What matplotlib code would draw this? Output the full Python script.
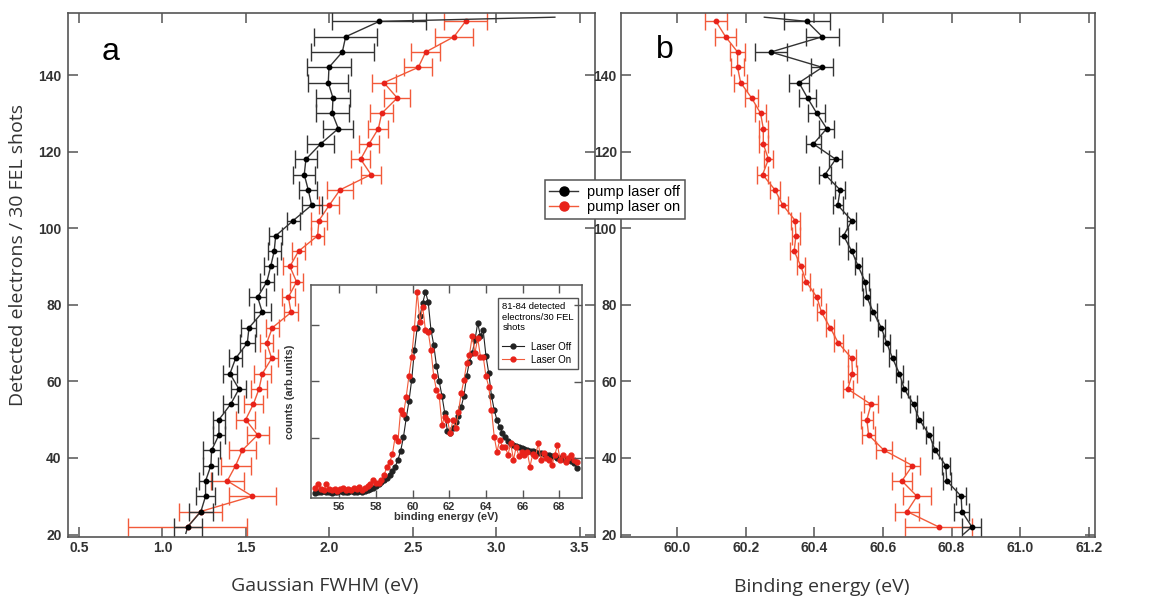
import matplotlib
matplotlib.use('Agg')
import matplotlib.pyplot as plt
from matplotlib.lines import Line2D

plt.rcParams['font.family'] = ['Liberation Sans', 'DejaVu Sans']

# detected electrons / 30 FEL shots (y of both panels)
electrons = [22, 26, 30, 34, 38, 42, 46, 50, 54, 58, 62, 66, 70, 74, 78, 82, 86,
             90, 94, 98, 102, 106, 110, 114, 118, 122, 126, 130, 134, 138, 142, 146, 150, 154]

# panel a: Gaussian FWHM (eV)
fwhm_off = [1.151, 1.230, 1.258, 1.258, 1.290, 1.294, 1.338, 1.338, 1.408, 1.458, 1.404, 1.438,
            1.508, 1.518, 1.598, 1.570, 1.625, 1.648, 1.669, 1.678, 1.783, 1.893, 1.873, 1.849,
            1.859, 1.947, 2.053, 2.017, 2.021, 1.993, 1.997, 2.077, 2.097, 2.298]
fwhm_off_err = [0.083, 0.07, 0.055, 0.04, 0.045, 0.05, 0.035, 0.035, 0.045, 0.045, 0.04, 0.04,
                0.045, 0.045, 0.05, 0.05, 0.04, 0.04, 0.04, 0.04, 0.04, 0.06, 0.054, 0.065,
                0.065, 0.08, 0.09, 0.10, 0.10, 0.12, 0.13, 0.19, 0.19, 0.28]
fwhm_on = [1.150, 1.228, 1.538, 1.388, 1.438, 1.478, 1.570, 1.498, 1.544, 1.578, 1.598, 1.654,
           1.624, 1.658, 1.770, 1.754, 1.803, 1.763, 1.815, 1.929, 1.937, 1.999, 2.063, 2.249,
           2.187, 2.237, 2.293, 2.313, 2.406, 2.326, 2.532, 2.576, 2.746, 2.815]
fwhm_on_err = [0.355, 0.13, 0.14, 0.10, 0.09, 0.08, 0.065, 0.055, 0.056, 0.05, 0.05, 0.04,
               0.04, 0.04, 0.04, 0.04, 0.04, 0.04, 0.04, 0.04, 0.05, 0.06, 0.08, 0.06,
               0.055, 0.06, 0.06, 0.07, 0.077, 0.072, 0.085, 0.088, 0.115, 0.13]
# line ends running past the first/last point (laser off)
fwhm_off_ends = [1.14, 3.35]
fwhm_off_ends_y = [20.3, 155.1]

# panel b: binding energy (eV)
be_off = [60.859, 60.830, 60.828, 60.786, 60.783, 60.752, 60.735, 60.706, 60.689, 60.662,
          60.648, 60.628, 60.611, 60.595, 60.572, 60.553, 60.548, 60.528, 60.509, 60.485,
          60.509, 60.468, 60.475, 60.431, 60.462, 60.397, 60.436, 60.407, 60.380, 60.355,
          60.423, 60.273, 60.423, 60.378]
be_off_err = [0.028, 0.022, 0.015, 0.012, 0.012, 0.01, 0.01, 0.01, 0.01, 0.01, 0.01, 0.01,
              0.01, 0.01, 0.01, 0.01, 0.01, 0.01, 0.012, 0.013, 0.013, 0.015, 0.015, 0.018,
              0.018, 0.022, 0.022, 0.025, 0.025, 0.03, 0.032, 0.047, 0.048, 0.067]
be_on = [60.762, 60.670, 60.699, 60.655, 60.686, 60.603, 60.558, 60.553, 60.565, 60.497,
         60.511, 60.509, 60.470, 60.446, 60.421, 60.407, 60.376, 60.361, 60.341, 60.346,
         60.344, 60.308, 60.285, 60.249, 60.266, 60.251, 60.251, 60.243, 60.217, 60.185,
         60.176, 60.176, 60.141, 60.113]
be_on_err = [0.097, 0.035, 0.04, 0.03, 0.022, 0.022, 0.02, 0.017, 0.02, 0.015, 0.012, 0.012,
             0.012, 0.012, 0.012, 0.012, 0.012, 0.012, 0.012, 0.012, 0.013, 0.014, 0.014, 0.015,
             0.014, 0.014, 0.014, 0.017, 0.018, 0.018, 0.018, 0.022, 0.03, 0.032]
be_off_ends = [60.835, 60.254]
be_off_ends_y = [20.1, 155.1]

# inset: spectrum for 81-84 detected electrons / 30 FEL shots
inset_energy = [54.70, 54.85, 55.00, 55.15, 55.30, 55.45, 55.60, 55.75, 55.90, 56.05,
                56.20, 56.35, 56.50, 56.65, 56.80, 56.95, 57.10, 57.25, 57.40, 57.55,
                57.70, 57.85, 58.00, 58.15, 58.30, 58.45, 58.60, 58.75, 58.90, 59.05,
                59.20, 59.35, 59.50, 59.65, 59.80, 59.95, 60.10, 60.25, 60.40, 60.55,
                60.70, 60.85, 61.00, 61.15, 61.30, 61.45, 61.60, 61.75, 61.90, 62.05,
                62.20, 62.35, 62.50, 62.65, 62.80, 62.95, 63.10, 63.25, 63.40, 63.55,
                63.70, 63.85, 64.00, 64.15, 64.30, 64.45, 64.60, 64.75, 64.90, 65.05,
                65.20, 65.35, 65.50, 65.65, 65.80, 65.95, 66.10, 66.25, 66.40, 66.55,
                66.70, 66.85, 67.00, 67.15, 67.30, 67.45, 67.60, 67.75, 67.90, 68.05,
                68.20, 68.35, 68.50, 68.65, 68.80, 68.95]
counts_off = [0.04, 0.06, 0.05, 0.07, 0.05, 0.06, 0.04, 0.06, 0.05, 0.07,
              0.05, 0.06, 0.05, 0.07, 0.06, 0.05, 0.07, 0.06, 0.07, 0.08,
              0.10, 0.13, 0.16, 0.20, 0.23, 0.27, 0.30, 0.36, 0.43, 0.50,
              0.62, 0.78, 1.02, 1.35, 1.65, 2.03, 2.55, 2.95, 3.15, 3.38,
              3.58, 3.40, 2.91, 2.65, 2.28, 2.00, 1.75, 1.45, 1.12, 1.10,
              1.18, 1.28, 1.40, 1.55, 1.75, 2.10, 2.35, 2.50, 2.73, 3.03,
              2.80, 2.90, 2.45, 2.15, 1.75, 1.50, 1.32, 1.20, 1.10, 1.02,
              0.95, 0.90, 0.88, 0.86, 0.84, 0.82, 0.81, 0.80, 0.78, 0.77,
              0.76, 0.74, 0.74, 0.72, 0.71, 0.70, 0.68, 0.68, 0.66, 0.65,
              0.63, 0.62, 0.62, 0.60, 0.57, 0.48]
counts_on = [0.12, 0.20, 0.10, 0.08, 0.19, 0.10, 0.09, 0.11, 0.07, 0.10,
             0.13, 0.08, 0.11, 0.09, 0.12, 0.10, 0.14, 0.09, 0.12, 0.15,
             0.19, 0.26, 0.22, 0.21, 0.26, 0.36, 0.50, 0.58, 0.72, 1.03,
             0.95, 1.50, 1.42, 1.73, 2.10, 2.44, 2.95, 3.58, 3.05, 3.32,
             2.90, 2.88, 2.55, 2.10, 1.85, 1.75, 1.24, 1.38, 1.32, 1.09,
             1.32, 1.18, 1.47, 1.79, 2.03, 2.32, 2.47, 2.80, 2.50, 2.76,
             2.44, 2.44, 2.09, 1.91, 1.50, 1.03, 0.76, 0.97, 0.85, 0.85,
             0.71, 0.91, 0.62, 0.85, 0.68, 0.76, 0.70, 0.76, 0.50, 0.72,
             0.68, 0.91, 0.62, 0.74, 0.66, 0.62, 0.53, 0.70, 0.88, 0.62,
             0.71, 0.59, 0.66, 0.71, 0.62, 0.59]

fwhm_ticks = [0.5, 1.0, 1.5, 2.0, 2.5, 3.0, 3.5]
be_ticks = [60.0, 60.2, 60.4, 60.6, 60.8, 61.0, 61.2]
y_ticks = [20, 40, 60, 80, 100, 120, 140]
inset_ticks = [56, 58, 60, 62, 64, 66, 68]

black = '#333333'
red_line = '#f25a3a'
red_dot = '#e8221a'
frame = '#555555'
text_col = '#333333'

fig = plt.figure(figsize=(11.62, 6.01), dpi=100)
ax_a = fig.add_axes([0.0585, 0.1065, 0.4535, 0.8719])
ax_b = fig.add_axes([0.5344, 0.1065, 0.4079, 0.8719])


def style(ax, ypad):
    for s in ax.spines.values():
        s.set_color(frame)
        s.set_linewidth(1.2)
    ax.tick_params(direction='in', top=True, right=True, length=7, width=1.1, color=frame,
                   labelsize=10, labelcolor=text_col)
    ax.tick_params(axis='y', pad=ypad)
    ax.tick_params(axis='x', pad=3)


def draw(ax, xs_off, err_off, xs_on, err_on, ends_x, ends_y):
    ax.errorbar(xs_on, electrons, xerr=err_on, fmt='-o', color=red_line, mfc=red_dot, mec=red_dot,
                ms=3.2, lw=1, elinewidth=1, capsize=6.5, capthick=1, zorder=2)
    ax.errorbar(xs_off, electrons, xerr=err_off, fmt='-o', color=black, mfc='black', mec='black',
                ms=3.2, lw=1, elinewidth=1, capsize=6.5, capthick=1, zorder=3)
    ax.plot([ends_x[0], xs_off[0]], [ends_y[0], electrons[0]], color=black, lw=1, zorder=3)
    ax.plot([xs_off[-1], ends_x[1]], [electrons[-1], ends_y[1]], color=black, lw=1, zorder=3)


# panel a
draw(ax_a, fwhm_off, fwhm_off_err, fwhm_on, fwhm_on_err, fwhm_off_ends, fwhm_off_ends_y)
ax_a.set_xlim(0.434, 3.59)
ax_a.set_ylim(19.35, 156.2)
ax_a.set_xticks(fwhm_ticks, ['%.1f' % t for t in fwhm_ticks], fontweight='bold')
ax_a.set_yticks(y_ticks, [str(t) for t in y_ticks], fontweight='bold')
style(ax_a, 4.5)

# panel b
draw(ax_b, be_off, be_off_err, be_on, be_on_err, be_off_ends, be_off_ends_y)
ax_b.set_xlim(59.836, 61.218)
ax_b.set_ylim(19.35, 156.2)
ax_b.set_xticks(be_ticks, ['%.1f' % t for t in be_ticks], fontweight='bold')
ax_b.set_yticks(y_ticks, [str(t) for t in y_ticks], fontweight='bold')
style(ax_b, 3)

# inset
ax_in = fig.add_axes([0.2676, 0.1709, 0.2333, 0.3549])
ax_in.plot(inset_energy, counts_off, '-o', color='#222222', ms=3.5, lw=0.8, label='Laser Off')
ax_in.plot(inset_energy, counts_on, '-o', color=red_line, mfc=red_dot, mec=red_dot, ms=3.5, lw=0.8,
           label='Laser On')
ax_in.set_xlim(54.456, 69.24)
ax_in.set_ylim(-0.058, 3.70)
ax_in.set_xticks(inset_ticks, [str(t) for t in inset_ticks], fontweight='bold')
ax_in.set_yticks([1, 2, 3], [])
for s in ax_in.spines.values():
    s.set_color(frame)
    s.set_linewidth(1.1)
ax_in.tick_params(direction='in', top=True, length=5.5, width=1, color=frame, labelsize=8,
                  labelcolor=text_col, pad=2.5)
ax_in.set_xlabel('binding energy (eV)', fontsize=8, fontweight='bold', color=text_col, labelpad=0)
ax_in.set_ylabel('counts (arb.units)', fontsize=8, fontweight='bold', color=text_col, labelpad=9)
twin = ax_in.twinx()
twin.set_ylim(ax_in.get_ylim())
twin.set_yticks([0.65, 1.99, 3.35], [])
twin.tick_params(direction='in', length=5.5, width=1, color=frame)
for s in twin.spines.values():
    s.set_visible(False)
leg_in = ax_in.legend(title='81-84 detected\nelectrons/30 FEL\nshots', loc='upper right',
                      bbox_to_anchor=(0.986, 0.939), borderaxespad=0, fontsize=7,
                      title_fontsize=6.8, alignment='left', fancybox=False, edgecolor=frame,
                      framealpha=1, handlelength=2.2, labelspacing=0.3, borderpad=0.45,
                      markerscale=1.0)
leg_in.get_frame().set_linewidth(1)
leg_in._legend_box.sep = 7

# legend across both panels
handles = [Line2D([], [], color=black, marker='o', mfc='black', mec='black', ms=6.5, lw=1,
                  label='pump laser off'),
           Line2D([], [], color=red_line, marker='o', mfc=red_dot, mec=red_dot, ms=6.5, lw=1,
                  label='pump laser on')]
leg = fig.legend(handles=handles, loc='center', bbox_to_anchor=(0.529, 0.668), fontsize=10.5,
                 fancybox=False, edgecolor=frame, framealpha=1, handlelength=2.0,
                 borderpad=0.3, labelspacing=0.1, handletextpad=0.6)
leg.get_frame().set_linewidth(1.1)

# labels
fig.text(325 / 1162, 1 - 586 / 601, 'Gaussian FWHM (eV)', ha='center', va='center',
         fontsize=14, family='Open Sans', color=text_col)
fig.text(822 / 1162, 1 - 587 / 601, 'Binding energy (eV)', ha='center', va='center',
         fontsize=14, family='Open Sans', color=text_col)
fig.text(18 / 1162, 1 - 255 / 601, 'Detected electrons / 30 FEL shots', ha='center',
         va='center', rotation=90, fontsize=14, family='Open Sans', color=text_col)
fig.text(111 / 1162, 1 - 52 / 601, 'a', ha='center', va='center', fontsize=23, color='black')
fig.text(665 / 1162, 1 - 50 / 601, 'b', ha='center', va='center', fontsize=23, color='black')

fig.savefig('out.png', dpi=100)
